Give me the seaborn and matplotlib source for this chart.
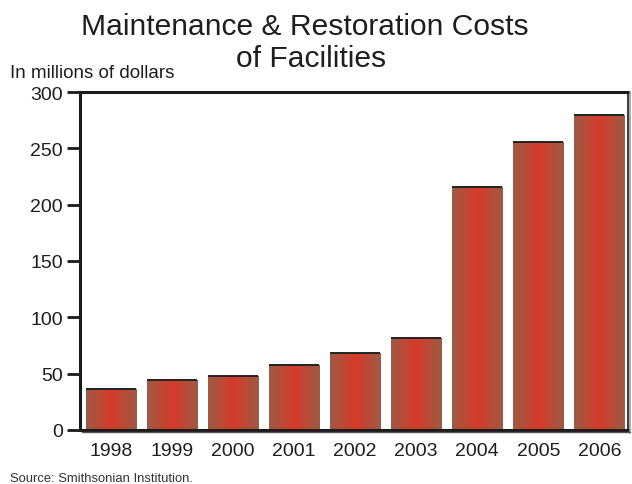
import numpy as np
import pandas as pd
import matplotlib
matplotlib.use("Agg")
import matplotlib.pyplot as plt
from matplotlib.colors import LinearSegmentedColormap
import seaborn as sns

sns.set_style("white")
plt.rcParams['font.family'] = ['Liberation Sans', 'DejaVu Sans']

## Data
years = ["1998", "1999", "2000", "2001", "2002", "2003", "2004", "2005", "2006"]
costs = [36, 44, 48, 58, 68, 82, 216, 256, 280]
yticks = [0, 50, 100, 150, 200, 250, 300]

data = pd.DataFrame({"year": years, "cost": costs})
txt = "#1e1e1e"

fig = plt.figure(figsize=(6.32, 4.85), dpi=100)
ax = fig.add_axes([80 / 632, 54 / 485, 548 / 632, 338 / 485])

sns.barplot(data=data, x="year", y="cost", ax=ax, width=0.82,
            color="#c8402c", saturation=1, linewidth=0)

# gradient fill: brown edges, red centre
cmap = LinearSegmentedColormap.from_list(
    "bar", ["#9e5a45", "#b94b37", "#d73a2a", "#b94b37", "#9e5a45"])
grad = np.linspace(0, 1, 256).reshape(1, -1)
for p in ax.patches:
    x0, y0 = p.get_x(), p.get_y()
    w, h = p.get_width(), p.get_height()
    im = ax.imshow(grad, cmap=cmap, aspect="auto",
                   extent=[x0, x0 + w, y0, y0 + h], zorder=2)
    im.set_clip_path(p)
    p.set_facecolor("none")
    ax.hlines(y0 + h, x0, x0 + w, color="#222222", linewidth=1.4, zorder=3)

ax.set_xlim(-0.508, 8.47)
ax.set_ylim(0, 300)
ax.set_yticks(yticks)
ax.set_xlabel("")
ax.set_ylabel("")

for s in ax.spines.values():
    s.set_visible(True)
    s.set_color("#1a1a1a")
    s.set_linewidth(2.2)
ax.spines["right"].set_linewidth(1.2)

ax.tick_params(axis="y", direction="out", length=9.5, width=2, color="#1a1a1a",
               labelsize=14, labelcolor=txt, pad=3, left=True)
ax.tick_params(axis="x", length=0, labelsize=14, labelcolor=txt, pad=9)

# drop shadow on right and bottom
fig.add_artist(plt.Line2D([629.5 / 632, 629.5 / 632], [51 / 485, 392 / 485],
                          color="#9a9a9a", linewidth=1.2))
fig.add_artist(plt.Line2D([82 / 632, 630 / 632], [52.5 / 485, 52.5 / 485],
                          color="#555555", linewidth=1.0))

# title, two separate lines
fig.text(305 / 632, 1 - 27 / 485, "Maintenance & Restoration Costs",
         ha="center", va="center", fontsize=21.6, color=txt)
fig.text(311 / 632, 1 - 59 / 485, "of Facilities",
         ha="center", va="center", fontsize=21.6, color=txt)
fig.text(10 / 632, 1 - 73 / 485, "In millions of dollars", ha="left", va="center",
         fontsize=13.5, color=txt)
fig.text(10 / 632, 1 - 479 / 485, "Source: Smithsonian Institution.", ha="left",
         va="center", fontsize=9.4, color="#333333")

fig.savefig("out.png", dpi=100)
